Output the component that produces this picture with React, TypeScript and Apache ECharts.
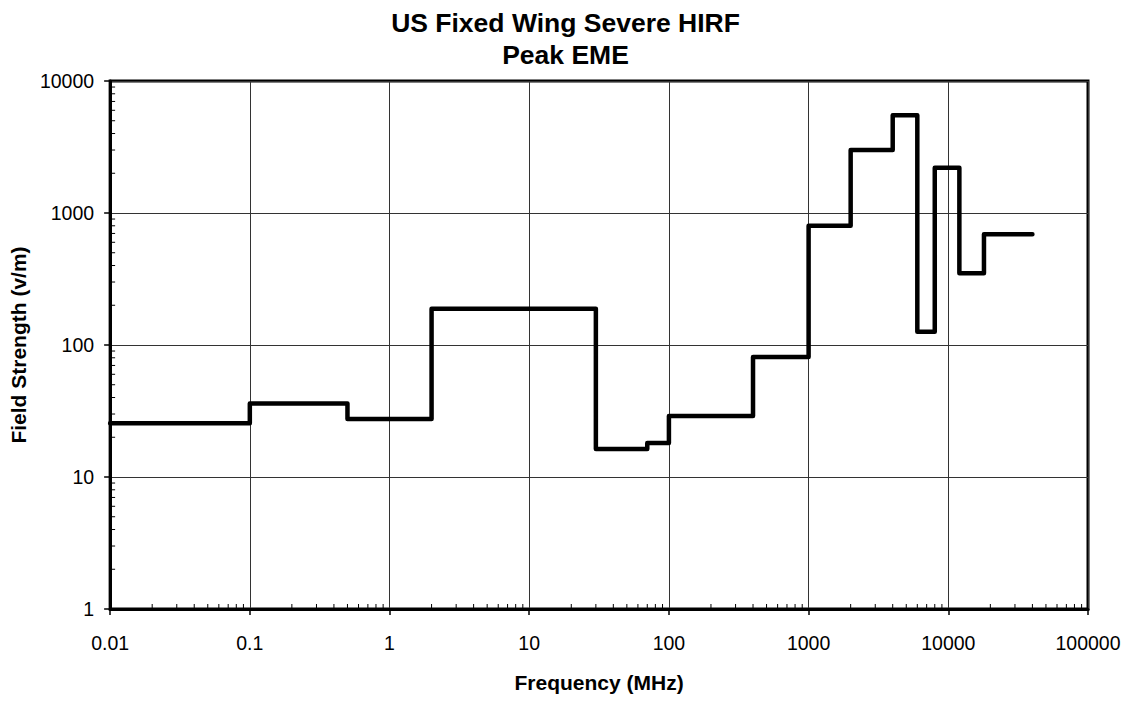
import React, { useEffect, useRef } from "react";
import * as echarts from "echarts";

// Step edges (MHz) and field-strength levels (V/m)
const freqEdges = [0.01, 0.1, 0.5, 2, 30, 70, 100, 400, 1000, 2000, 4000, 6000, 8000, 12000, 18000, 40000];
const fieldLevels = [25.5, 36, 27.5, 188, 16.3, 18.1, 29, 81, 800, 3000, 5500, 126, 2200, 350, 690];

const xTickValues = [0.01, 0.1, 1, 10, 100, 1000, 10000, 100000];
const xTickLabels = ["0.01", "0.1", "1", "10", "100", "1000", "10000", "100000"];
const yTickValues = [1, 10, 100, 1000, 10000];
const yTickLabels = ["1", "10", "100", "1000", "10000"];

const xDecades = [0.01, 0.1, 1, 10, 100, 1000, 10000];
const yDecades = [1, 10, 100, 1000];
const minorMultipliers = [2, 3, 4, 5, 6, 7, 8, 9];

const titleText = "US Fixed Wing Severe HIRF\nPeak EME";
const xName = "Frequency (MHz)";
const yName = "Field Strength (v/m)";

const FONT = "'Liberation Sans', Arial, Helvetica, sans-serif";

function findLabel(v: number, vals: number[], labels: string[]) {
  for (let i = 0; i < vals.length; i++) {
    if (Math.abs(Math.log10(v) - Math.log10(vals[i])) < 1e-6) return labels[i];
  }
  return "";
}

export default function App() {
  const ref = useRef<HTMLDivElement>(null);
  useEffect(() => {
    if (!ref.current) return;
    const chart = echarts.init(ref.current, undefined, { renderer: "svg" });

    const stepData: number[][] = freqEdges.map((f, i) => [
      f,
      fieldLevels[Math.min(i, fieldLevels.length - 1)],
    ]);

    const xMinor: number[][] = [];
    xDecades.forEach((d) => minorMultipliers.forEach((m) => xMinor.push([d * m, 1])));
    const yMinor: number[][] = [];
    yDecades.forEach((d) => minorMultipliers.forEach((m) => yMinor.push([0.01, d * m])));

    chart.setOption({
      animation: false,
      backgroundColor: "#fff",
      title: {
        text: titleText,
        left: "center",
        top: 2,
        textStyle: {
          fontFamily: FONT,
          fontSize: 26.5,
          fontWeight: "bold",
          color: "#000",
          lineHeight: 32,
        },
      },
      grid: {
        left: 107,
        top: 81,
        right: 43,
        bottom: 94,
        show: true,
        borderColor: "#000",
        borderWidth: 3,
        backgroundColor: "transparent",
      },
      xAxis: {
        type: "log",
        logBase: 10,
        min: 0.01,
        max: 100000,
        splitNumber: 7,
        name: xName,
        nameLocation: "middle",
        nameGap: 63,
        nameTextStyle: { fontFamily: FONT, fontSize: 21, fontWeight: "bold", color: "#000" },
        axisLine: { show: true, lineStyle: { color: "#000", width: 3 } },
        axisTick: { show: true, inside: false, length: 6, lineStyle: { color: "#000", width: 1.5 } },
        axisLabel: {
          margin: 24,
          fontFamily: FONT,
          fontSize: 19.5,
          color: "#000",
          formatter: (v: number) => findLabel(v, xTickValues, xTickLabels),
        },
        splitLine: { show: true, lineStyle: { color: "#333", width: 1 } },
      },
      yAxis: {
        type: "log",
        logBase: 10,
        min: 1,
        max: 10000,
        splitNumber: 4,
        name: yName,
        nameLocation: "middle",
        nameGap: 72,
        nameRotate: 90,
        nameTextStyle: { fontFamily: FONT, fontSize: 21, fontWeight: "bold", color: "#000" },
        axisLine: { show: true, lineStyle: { color: "#000", width: 3 } },
        axisTick: { show: true, inside: false, length: 6, lineStyle: { color: "#000", width: 1.5 } },
        axisLabel: {
          margin: 16,
          fontFamily: FONT,
          fontSize: 19.5,
          color: "#000",
          formatter: (v: number) => findLabel(v, yTickValues, yTickLabels),
        },
        splitLine: { show: true, lineStyle: { color: "#333", width: 1 } },
      },
      series: [
        {
          type: "custom",
          clip: false,
          silent: true,
          z: 3,
          data: xMinor,
          encode: { x: 0, y: 1 },
          renderItem: (_p: any, api: any) => {
            const pt = api.coord([api.value(0), api.value(1)]);
            return {
              type: "line",
              shape: { x1: pt[0], y1: pt[1], x2: pt[0], y2: pt[1] - 5 },
              style: { stroke: "#000", lineWidth: 1 },
            };
          },
        },
        {
          type: "custom",
          clip: false,
          silent: true,
          z: 3,
          data: yMinor,
          encode: { x: 0, y: 1 },
          renderItem: (_p: any, api: any) => {
            const pt = api.coord([api.value(0), api.value(1)]);
            return {
              type: "line",
              shape: { x1: pt[0], y1: pt[1], x2: pt[0] + 5, y2: pt[1] },
              style: { stroke: "#000", lineWidth: 1 },
            };
          },
        },
        {
          type: "line",
          step: "end",
          data: stepData,
          symbol: "none",
          z: 5,
          lineStyle: { color: "#000", width: 4.5, cap: "round", join: "round" },
        },
      ],
    });

    return () => chart.dispose();
  }, []);

  return (
    <div
      ref={ref}
      style={{ position: "absolute", left: 0, top: 0, width: 1131, height: 703, background: "#fff" }}
    />
  );
}
